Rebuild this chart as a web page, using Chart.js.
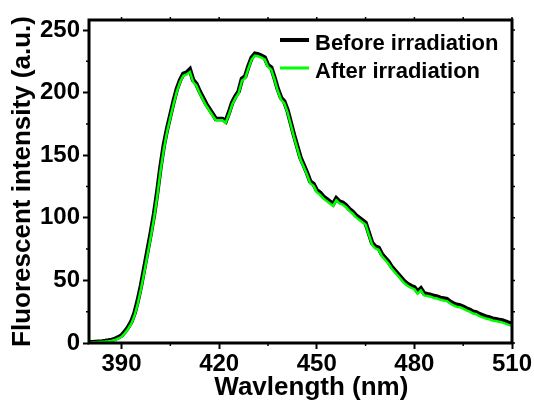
<!DOCTYPE html>
<html>
<head>
<meta charset="utf-8">
<script src="https://cdn.jsdelivr.net/npm/chart.js@4.4.0/dist/chart.umd.min.js"></script>
<style>
  html, body { margin: 0; padding: 0; background: #fff; }
</style>
</head>
<body>
<canvas id="spectrum" width="534" height="405"></canvas>
<script>
// wavelength (nm), 1 nm steps
var wavelengths = [
  380, 381, 382, 383, 384, 385, 386, 387, 388, 389,
  390, 391, 392, 393, 394, 395, 396, 397, 398, 399,
  400, 401, 402, 403, 404, 405, 406, 407, 408, 409,
  410, 411, 412, 413, 414, 415, 416, 417, 418, 419,
  420, 421, 422, 423, 424, 425, 426, 427, 428, 429,
  430, 431, 432, 433, 434, 435, 436, 437, 438, 439,
  440, 441, 442, 443, 444, 445, 446, 447, 448, 449,
  450, 451, 452, 453, 454, 455, 456, 457, 458, 459,
  460, 461, 462, 463, 464, 465, 466, 467, 468, 469,
  470, 471, 472, 473, 474, 475, 476, 477, 478, 479,
  480, 481, 482, 483, 484, 485, 486, 487, 488, 489,
  490, 491, 492, 493, 494, 495, 496, 497, 498, 499,
  500, 501, 502, 503, 504, 505, 506, 507, 508, 509,
  510
];

var beforeIrr = [
  0.5, 0.7, 0.9, 1.1, 1.3, 1.6, 2.0, 2.5, 3.2, 4.5,
  6.0, 9.0, 12.5, 17.0, 24.0, 34.0, 46.0, 60.0, 74.0, 88.0,
  103, 121, 141, 158, 171, 182, 193, 203, 210, 215,
  216, 218.5, 210, 207, 201, 196, 191, 187, 183, 179,
  179, 179, 177, 184, 192, 197, 201, 211, 213, 221,
  228, 231, 230.5, 229.5, 228, 222, 220, 212, 203, 196,
  193, 186, 176, 166, 157, 148, 142, 136, 129, 127,
  122, 120, 117, 115, 113, 111, 115.5, 113, 112, 110,
  107, 105, 102, 100, 98, 96, 88, 80, 77, 76,
  71, 68, 65, 61, 58, 55, 52, 49, 47, 45.5,
  44.5, 41, 43.5, 39.5, 39, 38.5, 37.5, 37, 36, 35.5,
  35, 33, 31.5, 30.5, 30, 29, 27.5, 26.5, 25, 24.5,
  23, 22, 21, 20.5, 19.5, 19, 18.5, 18, 17, 16,
  15
];

var afterIrr = [
  0.2, 0.4, 0.6, 0.8, 1.0, 1.2, 1.5, 1.9, 2.5, 3.6,
  5.0, 7.8, 11.2, 15.5, 22.0, 31.5, 43.5, 57.0, 71.0, 85.0,
  100, 118, 138, 155, 169, 180, 191, 201, 208.5, 213.5,
  214.5, 216.5, 208.5, 205.5, 199.5, 194.5, 189.5, 185.5, 181.5, 178,
  178, 178, 176, 182.5, 190.5, 195.5, 199.5, 209.5, 211.5, 219.5,
  226.5, 229.5, 229, 228, 226.5, 220.5, 218.5, 210.5, 201.5, 194.5,
  191.5, 184.5, 174.5, 164.5, 155.5, 146.5, 140.5, 134.5, 127.5, 125.5,
  120.5, 118.5, 115.5, 113.5, 111.5, 109.5, 114, 111.5, 110.5, 108.5,
  105.5, 103.5, 100.5, 98.5, 96.5, 94.5, 86.5, 78.5, 75.5, 74.5,
  69.5, 66.5, 63.5, 59.5, 56.5, 53.5, 50.5, 47.5, 45.5, 44,
  43, 39.5, 42, 38, 37.5, 37, 36, 35.5, 34.5, 34,
  33.5, 31.5, 30, 29, 28.5, 27.5, 26, 25, 23.5, 23,
  21.5, 20.5, 19.5, 19, 18, 17.5, 17, 16.5, 15.5, 14.5,
  13.8
];

var xTicks = [390, 420, 450, 480, 510];
var xMinor = [405, 435, 465, 495];
var yTicks = [0, 50, 100, 150, 200, 250];
var yMinor = [25, 75, 125, 175, 225];

Chart.defaults.font.family = '"Liberation Sans", Arial, sans-serif';
Chart.defaults.font.weight = 'bold';
Chart.defaults.color = '#000';

function toPoints(vals) {
  return wavelengths.map(function(w, i) { return { x: w, y: vals[i] }; });
}

// frame, small ticks and the legend box inside the plot
var framePlugin = {
  id: 'frame',
  afterDraw: function(chart) {
    var ctx = chart.ctx, a = chart.chartArea;
    var xs = chart.scales.x, ys = chart.scales.y;
    ctx.save();
    ctx.strokeStyle = '#000';
    ctx.lineWidth = 1.5;
    ctx.beginPath();
    xMinor.forEach(function(v) {
      var px = xs.getPixelForValue(v);
      ctx.moveTo(px, a.bottom); ctx.lineTo(px, a.bottom + 3);
    });
    yMinor.forEach(function(v) {
      var py = ys.getPixelForValue(v);
      ctx.moveTo(a.left, py); ctx.lineTo(a.left - 3, py);
    });
    xTicks.concat(xMinor).forEach(function(v) {
      var px = xs.getPixelForValue(v);
      ctx.moveTo(px, a.top); ctx.lineTo(px, a.top - 3);
    });
    yTicks.concat(yMinor).forEach(function(v) {
      var py = ys.getPixelForValue(v);
      ctx.moveTo(a.right, py); ctx.lineTo(a.right + 3, py);
    });
    ctx.stroke();

    ctx.lineWidth = 3;
    ctx.strokeRect(a.left, a.top, a.right - a.left, a.bottom - a.top);

    // legend
    var ds = chart.data.datasets;
    var rows = [40, 68];
    ctx.font = 'bold 22px "Liberation Sans", Arial, sans-serif';
    ctx.textBaseline = 'alphabetic';
    ctx.fillStyle = '#000';
    ds.forEach(function(d, i) {
      ctx.beginPath();
      ctx.strokeStyle = d.borderColor;
      ctx.lineWidth = i === 0 ? 4 : 3;
      ctx.moveTo(280, rows[i]); ctx.lineTo(309, rows[i]);
      ctx.stroke();
      ctx.fillText(d.label, 315, rows[i] + 10);
    });
    ctx.restore();
  }
};

var ctx = document.getElementById('spectrum');

var chart = new Chart(ctx, {
  type: 'line',
  data: {
    datasets: [
      {
        label: 'Before irradiation',
        data: toPoints(beforeIrr),
        borderColor: '#000000',
        borderWidth: 4.5,
        pointRadius: 0,
        fill: false,
        tension: 0,
        order: 2
      },
      {
        label: 'After irradiation',
        data: toPoints(afterIrr),
        borderColor: '#00ff00',
        borderWidth: 2.5,
        pointRadius: 0,
        fill: false,
        tension: 0,
        order: 1
      }
    ]
  },
  options: {
    responsive: false,
    animation: false,
    devicePixelRatio: 1,
    layout: { padding: { top: 20, right: 22, bottom: 0, left: 0 } },
    plugins: {
      legend: { display: false },
      tooltip: { enabled: false }
    },
    scales: {
      x: {
        type: 'linear',
        min: 380,
        max: 510,
        afterBuildTicks: function(scale) {
          scale.ticks = xTicks.map(function(v) { return { value: v }; });
        },
        afterFit: function(scale) { scale.height = 62; },
        ticks: { font: { size: 24, weight: 'bold' }, padding: 1, maxRotation: 0 },
        grid: { drawOnChartArea: false, tickLength: 6, tickWidth: 2, tickColor: '#000' },
        border: { display: false },
        title: {
          display: true,
          text: '   Wavlength (nm)',
          font: { size: 26, weight: 'bold' },
          padding: { top: 0, bottom: 2 }
        }
      },
      y: {
        min: 0,
        max: 258,
        afterBuildTicks: function(scale) {
          scale.ticks = yTicks.map(function(v) { return { value: v }; });
        },
        afterFit: function(scale) { scale.width = 89; },
        ticks: { font: { size: 24, weight: 'bold' }, padding: 3 },
        grid: { drawOnChartArea: false, tickLength: 6, tickWidth: 2, tickColor: '#000' },
        border: { display: false },
        title: {
          display: true,
          text: 'Fluorescent intensity (a.u.)',
          font: { size: 26, weight: 'bold' },
          padding: { top: 7, bottom: 0 }
        }
      }
    }
  },
  plugins: [framePlugin]
});
</script>
</body>
</html>
